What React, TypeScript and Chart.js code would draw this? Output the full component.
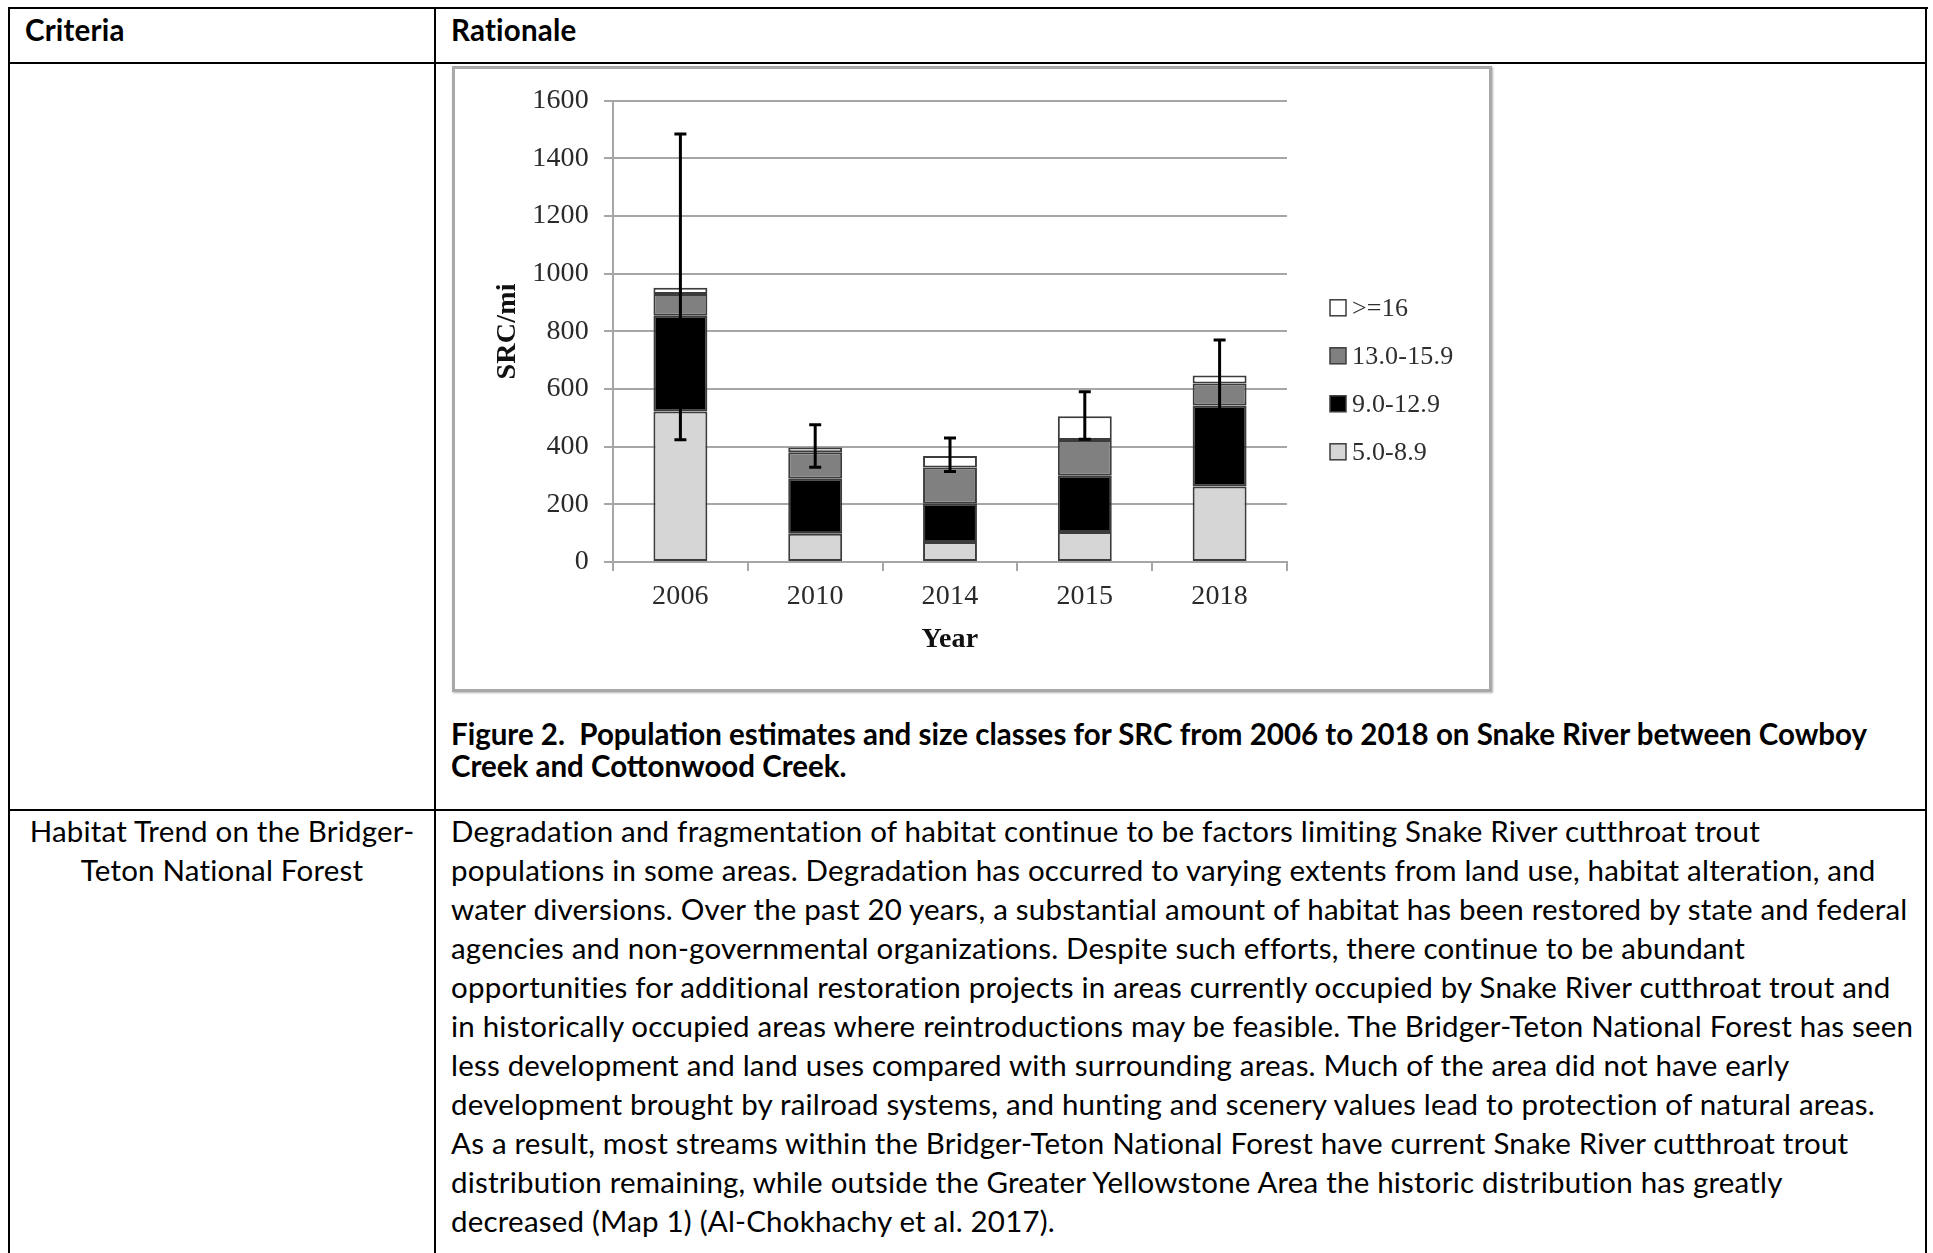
import React, { useEffect, useRef } from 'react';
import { Chart, registerables } from 'chart.js';

Chart.register(...registerables);

// ---------- data ----------
const years = ['2006', '2010', '2014', '2015', '2018'];
const seriesLabels = ['5.0-8.9', '9.0-12.9', '13.0-15.9', '>=16'];
const size5to8 = [522, 98, 69, 104, 262];
const size9to12 = [332, 191, 133, 195, 281];
const size13to15 = [76, 92, 126, 124, 76];
const size16plus = [21, 16, 40, 83, 28];
const errLow = [424, 329, 314, 426, 525];
const errHigh = [1485, 476, 430, 591, 770];
const yMax = 1600;
const yStep = 200;

const seriesColors = ['#d6d6d6', '#000000', '#808080', '#ffffff'];

const bodyLines = [
  'Degradation and fragmentation of habitat continue to be factors limiting Snake River cutthroat trout',
  'populations in some areas. Degradation has occurred to varying extents from land use, habitat alteration, and',
  'water diversions. Over the past 20 years, a substantial amount of habitat has been restored by state and federal',
  'agencies and non-governmental organizations. Despite such efforts, there continue to be abundant',
  'opportunities for additional restoration projects in areas currently occupied by Snake River cutthroat trout and',
  'in historically occupied areas where reintroductions may be feasible. The Bridger-Teton National Forest has seen',
  'less development and land uses compared with surrounding areas. Much of the area did not have early',
  'development brought by railroad systems, and hunting and scenery values lead to protection of natural areas.',
  'As a result, most streams within the Bridger-Teton National Forest have current Snake River cutthroat trout',
  'distribution remaining, while outside the Greater Yellowstone Area the historic distribution has greatly',
  'decreased (Map 1) (Al-Chokhachy et al. 2017).',
];
const criteriaLines = ['Habitat Trend on the Bridger-', 'Teton National Forest'];
const captionLines = [
  'Figure 2.\u00a0 Population estimates and size classes for SRC from 2006 to 2018 on Snake River between Cowboy',
  'Creek and Cottonwood Creek.',
];

// ---------- plugins ----------
const errorBarPlugin = {
  id: 'errorBars',
  afterDatasetsDraw(chart: any) {
    const { ctx, scales } = chart;
    const x = scales.x;
    const y = scales.y;
    ctx.save();
    ctx.strokeStyle = '#000';
    ctx.lineWidth = 3;
    years.forEach((_, i) => {
      const px = x.getPixelForValue(i);
      const lo = y.getPixelForValue(errLow[i]);
      const hi = y.getPixelForValue(errHigh[i]);
      ctx.beginPath();
      ctx.moveTo(px, lo);
      ctx.lineTo(px, hi);
      ctx.moveTo(px - 6, lo);
      ctx.lineTo(px + 6, lo);
      ctx.moveTo(px - 6, hi);
      ctx.lineTo(px + 6, hi);
      ctx.stroke();
    });
    ctx.restore();
  },
};

const sideLegendPlugin = {
  id: 'sideLegend',
  afterDraw(chart: any) {
    const { ctx, chartArea } = chart;
    const x0 = chartArea.right + 43;
    const y0 = chartArea.top + 207;
    const gap = 48;
    const ds = chart.data.datasets.slice().reverse();
    ctx.save();
    ds.forEach((d: any, k: number) => {
      const cy = y0 + k * gap;
      ctx.fillStyle = d.backgroundColor;
      ctx.fillRect(x0, cy - 8, 16, 16);
      ctx.strokeStyle = '#3c3c3c';
      ctx.lineWidth = 1.5;
      ctx.strokeRect(x0, cy - 8, 16, 16);
      ctx.fillStyle = '#2e2e2e';
      ctx.font = '26px "Liberation Serif"';
      ctx.textBaseline = 'middle';
      ctx.textAlign = 'left';
      ctx.fillText(d.label, x0 + 22, cy + 1);
    });
    ctx.restore();
  },
};

const CANVAS_W = 1034;
const CANVAS_H = 620;
const PLOT_LEFT = 158;
const PLOT_RIGHT = 832;
const PLOT_TOP = 31;
const PLOT_BOTTOM = 493;

function ChartBox() {
  const ref = useRef<HTMLCanvasElement | null>(null);
  useEffect(() => {
    if (!ref.current) return;
    const values = [size5to8, size9to12, size13to15, size16plus];
    const chart = new Chart(ref.current, {
      type: 'bar',
      data: {
        labels: years,
        datasets: values.map((v, i) => ({
          label: seriesLabels[i],
          data: v,
          backgroundColor: seriesColors[i],
          borderColor: '#3c3c3c',
          borderWidth: 2,
          borderSkipped: false,
          barPercentage: 0.4,
          categoryPercentage: 1,
        })),
      },
      options: {
        responsive: false,
        animation: false,
        devicePixelRatio: 1,
        layout: { padding: { left: 0, right: CANVAS_W - PLOT_RIGHT, top: PLOT_TOP, bottom: 0 } },
        plugins: { legend: { display: false }, tooltip: { enabled: false } },
        scales: {
          x: {
            stacked: true,
            afterFit: (s: any) => { s.height = CANVAS_H - PLOT_BOTTOM; },
            grid: { drawOnChartArea: false, drawTicks: true, tickLength: 9, color: '#a6a6a6', lineWidth: 2, offset: true },
            border: { display: true, color: '#a6a6a6', width: 2 },
            ticks: { color: '#2a2a2a', padding: 9, font: { family: '"Liberation Serif"', size: 28 } },
            title: {
              display: true,
              text: 'Year',
              color: '#111',
              font: { family: '"Liberation Serif"', size: 28, weight: 'bold' },
              padding: { top: 0, bottom: 32 },
            },
          },
          y: {
            stacked: true,
            min: 0,
            max: yMax,
            afterFit: (s: any) => { s.width = PLOT_LEFT; },
            grid: { drawTicks: true, tickLength: 9, color: '#a6a6a6', lineWidth: 2 },
            border: { display: true, color: '#a6a6a6', width: 2 },
            ticks: {
              stepSize: yStep,
              color: '#2a2a2a',
              padding: 15,
              font: { family: '"Liberation Serif"', size: 28 },
              callback: (v: any) => String(v),
            },
            title: {
              display: true,
              text: 'SRC/mi',
              color: '#111',
              font: { family: '"Liberation Serif"', size: 28, weight: 'bold' },
              padding: { top: 36, bottom: 0 },
            },
          },
        },
      },
      plugins: [errorBarPlugin, sideLegendPlugin],
    } as any);
    return () => chart.destroy();
  }, []);
  return (
    <div
      style={{
        position: 'absolute',
        left: 452,
        top: 66,
        width: CANVAS_W,
        height: CANVAS_H,
        border: '3px solid #a8a8a8',
        boxShadow: '1px 1px 2px rgba(0,0,0,0.3)',
        background: '#fff',
      }}
    >
      <canvas ref={ref} width={CANVAS_W} height={CANVAS_H} style={{ display: 'block', width: CANVAS_W, height: CANVAS_H }} />
    </div>
  );
}

const line = (l: number, t: number, w: number, h: number) => (
  <div style={{ position: 'absolute', left: l, top: t, width: w, height: h, background: '#000' }} />
);

export default function App() {
  const font = 'Lato, "Open Sans", sans-serif';
  const fs = 29.5;
  const lh = 39;
  const ls = '0.2px';
  return (
    <div
      style={{
        position: 'fixed',
        left: 0,
        top: 0,
        width: 1933,
        height: 1253,
        overflow: 'hidden',
        background: '#fff',
        fontFamily: font,
        fontSize: fs,
        letterSpacing: ls,
        lineHeight: `${lh}px`,
        color: '#000',
      }}
    >
      {line(8, 7, 1920, 2)}
      {line(8, 7, 2, 1260)}
      {line(1925, 7, 2, 1260)}
      {line(434, 7, 2, 1260)}
      {line(8, 62, 1919, 2)}
      {line(8, 809, 1919, 2)}

      <div style={{ position: 'absolute', left: 25, top: 10, fontWeight: 700, whiteSpace: 'nowrap' }}>Criteria</div>
      <div style={{ position: 'absolute', left: 451, top: 10, fontWeight: 700, whiteSpace: 'nowrap' }}>Rationale</div>

      <ChartBox />

      <div
        style={{
          position: 'absolute',
          left: 451,
          top: 718,
          fontWeight: 700,
          whiteSpace: 'nowrap',
          lineHeight: '32px',
          letterSpacing: '0px',
        }}
      >
        {captionLines.map((t, i) => (
          <div key={i}>{t}</div>
        ))}
      </div>

      <div style={{ position: 'absolute', left: 10, top: 811, width: 424, textAlign: 'center', whiteSpace: 'nowrap' }}>
        {criteriaLines.map((t, i) => (
          <div key={i}>{t}</div>
        ))}
      </div>

      <div style={{ position: 'absolute', left: 451, top: 811, whiteSpace: 'nowrap' }}>
        {bodyLines.map((t, i) => (
          <div key={i}>{t}</div>
        ))}
      </div>
    </div>
  );
}
